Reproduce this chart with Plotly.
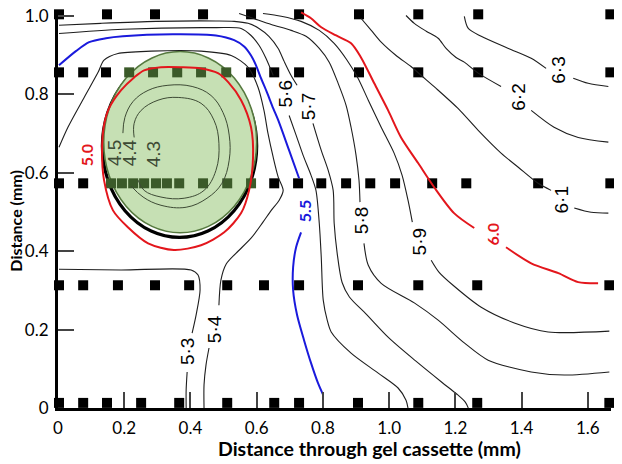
import plotly.graph_objects as go

# ---------------- data ----------------
# measurement grid (black squares), one list of x per row
row_y = [1.004, 0.856, 0.573, 0.313, 0.013]
row1_x = [0.003, 0.148, 0.293, 0.438, 0.583, 0.728, 0.909, 1.088, 1.269, 1.668]
row2_x = [0.003, 0.076, 0.145, 0.215, 0.287, 0.360, 0.432, 0.508, 0.583, 0.653,
          0.728, 0.909, 1.088, 1.269, 1.668]
row3_x = [0.003, 0.076, 0.160, 0.193, 0.227, 0.260, 0.296, 0.329, 0.366, 0.438,
          0.511, 0.583, 0.653, 0.725, 0.795, 0.870, 0.943, 1.018, 1.130, 1.233,
          1.450, 1.668]
row4_x = [0.003, 0.076, 0.181, 0.293, 0.396, 0.511, 0.622, 0.728, 0.906, 1.088,
          1.266, 1.665]
row5_x = [0.003, 0.076, 0.148, 0.251, 0.366, 0.511, 0.653, 0.728, 0.906, 1.088,
          1.266, 1.665]

# gel bead (circle) centre and radius
bead_cx = 0.367
bead_cy = 0.675
bead_r = 0.233

# inner contours (4.4 / 4.3)
c44_x = [0.196, 0.202, 0.227, 0.272, 0.332, 0.405, 0.462, 0.498, 0.517, 0.517,
         0.495, 0.450, 0.387, 0.311, 0.257, 0.221]
c44_y = [0.701, 0.741, 0.782, 0.810, 0.823, 0.820, 0.797, 0.754, 0.696, 0.632,
         0.573, 0.535, 0.512, 0.517, 0.538, 0.566]
c43_x = [0.230, 0.230, 0.251, 0.302, 0.363, 0.432, 0.471, 0.486, 0.477, 0.441,
         0.381, 0.311, 0.260, 0.242]
c43_y = [0.690, 0.726, 0.759, 0.785, 0.792, 0.777, 0.734, 0.675, 0.606, 0.555,
         0.535, 0.538, 0.555, 0.581]

# 5.0 contour (red, closed)
c50_x = [0.230, 0.260, 0.311, 0.372, 0.432, 0.483, 0.514, 0.553, 0.583, 0.589,
         0.577, 0.553, 0.502, 0.432, 0.350, 0.272, 0.211, 0.166, 0.139, 0.133,
         0.139, 0.154, 0.190, 0.230]
c50_y = [0.843, 0.861, 0.869, 0.869, 0.866, 0.854, 0.831, 0.785, 0.716, 0.639,
         0.555, 0.497, 0.448, 0.415, 0.403, 0.420, 0.461, 0.504, 0.581, 0.657,
         0.721, 0.764, 0.810, 0.843]

# 5.3 contour
c53a_x = [0.003, 0.190, 0.402, 0.423, 0.429, 0.417, 0.405]
c53a_y = [0.354, 0.352, 0.352, 0.339, 0.301, 0.237, 0.191]
c53b_x = [0.390, 0.387, 0.387]
c53b_y = [0.092, 0.046, 0.000]

# 5.4 contour
c54a_x = [0.003, 0.030, 0.079, 0.121, 0.139, 0.181, 0.281, 0.432, 0.523, 0.574,
          0.604, 0.622, 0.634, 0.650, 0.665, 0.680, 0.668, 0.644, 0.619, 0.583,
          0.538, 0.508, 0.492, 0.486]
c54a_y = [0.665, 0.716, 0.792, 0.856, 0.887, 0.904, 0.910, 0.910, 0.899, 0.869,
          0.818, 0.759, 0.701, 0.639, 0.589, 0.555, 0.530, 0.504, 0.474, 0.433,
          0.395, 0.367, 0.326, 0.262]
c54b_x = [0.456, 0.447, 0.441, 0.441]
c54b_y = [0.153, 0.110, 0.059, 0.000]

# 5.5 contour (blue)
c55a_x = [0.003, 0.054, 0.094, 0.145, 0.196, 0.347, 0.477, 0.532, 0.562, 0.583,
          0.598, 0.613, 0.631, 0.650, 0.665, 0.698, 0.728]
c55a_y = [0.874, 0.910, 0.933, 0.943, 0.948, 0.953, 0.950, 0.938, 0.922, 0.899,
          0.874, 0.841, 0.805, 0.764, 0.734, 0.657, 0.586]
c55b_x = [0.734, 0.719, 0.710, 0.710, 0.722, 0.743, 0.764, 0.785, 0.801]
c55b_y = [0.448, 0.410, 0.359, 0.301, 0.237, 0.173, 0.115, 0.064, 0.033]

# 5.6 contour
c56a_x = [0.003, 0.196, 0.477, 0.553, 0.583, 0.607, 0.628, 0.650]
c56a_y = [0.955, 0.966, 0.970, 0.968, 0.950, 0.925, 0.892, 0.848]
c56b_x = [0.698, 0.719, 0.740, 0.764, 0.779, 0.789, 0.795, 0.801, 0.813, 0.825,
          0.885, 0.967, 1.027, 1.051, 1.057]
c56b_y = [0.746, 0.696, 0.645, 0.594, 0.555, 0.471, 0.385, 0.275, 0.224, 0.194,
          0.140, 0.089, 0.051, 0.020, 0.000]

# 5.7 contour
c57a_x = [0.003, 0.130, 0.296, 0.477, 0.532, 0.574, 0.607, 0.637, 0.665, 0.683,
          0.704, 0.722]
c57a_y = [0.976, 0.981, 0.986, 0.987, 0.986, 0.981, 0.968, 0.948, 0.917, 0.884,
          0.848, 0.823]
c57b_x = [0.770, 0.795, 0.816, 0.831, 0.834, 0.843, 0.858, 0.880, 0.930, 1.000,
          1.080, 1.160, 1.205, 1.230, 1.239]
c57b_y = [0.726, 0.657, 0.606, 0.555, 0.471, 0.395, 0.320, 0.283, 0.240, 0.178,
          0.120, 0.065, 0.035, 0.015, 0.000]

# 5.8 contour
c58a_x = [0.547, 0.589, 0.644, 0.704, 0.749, 0.789, 0.819, 0.846, 0.870, 0.885,
          0.900, 0.909, 0.912]
c58a_y = [1.006, 0.994, 0.978, 0.963, 0.948, 0.917, 0.882, 0.828, 0.772, 0.716,
          0.645, 0.581, 0.525]
c58b_x = [0.924, 0.937, 0.976, 1.076, 1.148, 1.227, 1.299, 1.429, 1.529, 1.665]
c58b_y = [0.420, 0.364, 0.318, 0.268, 0.224, 0.166, 0.122, 0.092, 0.084, 0.092]

# 5.9 contour
c59a_x = [0.619, 0.674, 0.734, 0.789, 0.834, 0.873, 0.906, 0.937, 0.976, 1.015,
          1.039, 1.057, 1.070]
c59a_y = [1.006, 0.999, 0.986, 0.963, 0.930, 0.887, 0.841, 0.785, 0.716, 0.650,
          0.594, 0.530, 0.474]
c59b_x = [1.127, 1.151, 1.193, 1.278, 1.378, 1.480, 1.665]
c59b_y = [0.377, 0.346, 0.313, 0.257, 0.217, 0.194, 0.196]

# 6.0 contour (red)
c60a_x = [0.734, 0.764, 0.795, 0.840, 0.885, 0.915, 0.955, 0.997, 1.036, 1.088,
          1.136, 1.196, 1.257]
c60a_y = [1.009, 0.994, 0.971, 0.950, 0.930, 0.894, 0.828, 0.759, 0.690, 0.624,
          0.563, 0.497, 0.459]
c60b_x = [1.353, 1.429, 1.511, 1.571, 1.631]
c60b_y = [0.410, 0.369, 0.344, 0.321, 0.318]

# 6.1 contour
c61a_x = [0.915, 0.946, 0.976, 1.021, 1.066, 1.097, 1.142, 1.208, 1.269, 1.338,
          1.390, 1.450, 1.489]
c61a_y = [0.994, 0.963, 0.933, 0.899, 0.871, 0.848, 0.815, 0.764, 0.708, 0.650,
          0.614, 0.573, 0.555]
c61b_x = [1.559, 1.610, 1.662]
c61b_y = [0.510, 0.499, 0.497]

# 6.2 contour
c62a_x = [1.051, 1.076, 1.112, 1.148, 1.172, 1.202, 1.227, 1.269, 1.338]
c62a_y = [1.001, 0.981, 0.961, 0.943, 0.917, 0.894, 0.882, 0.854, 0.820]
c62b_x = [1.429, 1.498, 1.571, 1.662]
c62b_y = [0.759, 0.716, 0.690, 0.678]

# 6.3 contour
c63a_x = [1.227, 1.239, 1.278, 1.360, 1.429, 1.474]
c63a_y = [0.999, 0.968, 0.948, 0.917, 0.892, 0.866]
c63b_x = [1.556, 1.601, 1.662]
c63b_y = [0.841, 0.828, 0.820]

# contour labels
label_text = ["5.0", "4.5", "4.4", "4.3", "5.5", "5·6", "5·7", "5·8", "5·9",
              "6.0", "6·1", "6·2", "6·3", "5·3", "5·4"]
label_x = [0.085, 0.169, 0.215, 0.287, 0.743, 0.686, 0.755, 0.915, 1.091,
           1.311, 1.520, 1.390, 1.511, 0.393, 0.471]
label_y = [0.645, 0.650, 0.650, 0.647, 0.502, 0.800, 0.767, 0.479, 0.423,
           0.443, 0.530, 0.792, 0.861, 0.143, 0.201]

x_ticks = [0, 0.2, 0.4, 0.6, 0.8, 1.0, 1.2, 1.4, 1.6]
x_ticktext = ["0", "0.2", "0.4", "0.6", "0.8", "1.0", "1.2", "1.4", "1.6"]
y_ticks = [0, 0.2, 0.4, 0.6, 0.8, 1.0]
y_ticktext = ["0", "0.2", "0.4", "0.6", "0.8", "1.0"]

x_title = "Distance through gel cassette (mm)"
y_title = "Distance (mm)"

# ---------------- styling ----------------
RED = "#e3161c"
BLUE = "#1a1adc"
BLACK_LINE = "#1e1e1e"
GREEN_FILL = "#c6e0b4"
GREEN_EDGE = "#56793f"
DARK_GREEN = "#3b5a29"
INNER = "#3d4a34"

fig = go.Figure()

# bead: black ring then green disk (below traces)
fig.add_shape(type="circle", xref="x", yref="y", layer="below",
              x0=bead_cx - bead_r, x1=bead_cx + bead_r,
              y0=bead_cy - 0.007 - bead_r, y1=bead_cy - 0.007 + bead_r,
              line=dict(color="black", width=3.2))
fig.add_shape(type="circle", xref="x", yref="y", layer="below",
              x0=bead_cx + 0.002 - (bead_r - 0.002), x1=bead_cx + 0.002 + (bead_r - 0.002),
              y0=bead_cy + 0.003 - (bead_r - 0.002), y1=bead_cy + 0.003 + (bead_r - 0.002),
              fillcolor=GREEN_FILL, line=dict(color=GREEN_EDGE, width=1.6))

# grid markers
mx, my = [], []
for yv, xs in zip(row_y, [row1_x, row2_x, row3_x, row4_x, row5_x]):
    for xv in xs:
        mx.append(xv)
        my.append(yv)
mcol = []
for xv, yv in zip(mx, my):
    d2 = (xv - bead_cx) ** 2 + (yv - (bead_cy + 0.003)) ** 2
    mcol.append(DARK_GREEN if d2 < (bead_r + 0.01) ** 2 else "black")
fig.add_trace(go.Scatter(x=mx, y=my, mode="markers", cliponaxis=False,
                         marker=dict(symbol="square", size=10, color=mcol,
                                     line=dict(width=0)),
                         hoverinfo="skip", showlegend=False))


def add_line(xs, ys, color, width, smoothing=0.8):
    fig.add_trace(go.Scatter(x=xs, y=ys, mode="lines",
                             line=dict(color=color, width=width, shape="spline",
                                       smoothing=smoothing),
                             hoverinfo="skip", showlegend=False))


for xs, ys in [(c44_x, c44_y), (c43_x, c43_y)]:
    add_line(xs, ys, INNER, 1.0, smoothing=1.1)

for xs, ys in [(c53a_x, c53a_y), (c53b_x, c53b_y), (c54a_x, c54a_y),
               (c54b_x, c54b_y), (c56a_x, c56a_y), (c56b_x, c56b_y),
               (c57a_x, c57a_y), (c57b_x, c57b_y), (c58a_x, c58a_y),
               (c58b_x, c58b_y), (c59a_x, c59a_y), (c59b_x, c59b_y),
               (c61a_x, c61a_y), (c61b_x, c61b_y), (c62a_x, c62a_y),
               (c62b_x, c62b_y), (c63a_x, c63a_y), (c63b_x, c63b_y)]:
    add_line(xs, ys, BLACK_LINE, 1.1)

for xs, ys in [(c55a_x, c55a_y), (c55b_x, c55b_y)]:
    add_line(xs, ys, BLUE, 2.0)
for xs, ys in [(c50_x, c50_y), (c60a_x, c60a_y), (c60b_x, c60b_y)]:
    add_line(xs, ys, RED, 2.0)

# labels
for t, lx, ly in zip(label_text, label_x, label_y):
    if t in ("5.0", "6.0"):
        font = dict(family="Lato", size=16, color=RED, weight="bold")
    elif t == "5.5":
        font = dict(family="Lato", size=16, color=BLUE, weight="bold")
    elif t.startswith("4."):
        font = dict(family="Liberation Sans", size=19, color=INNER)
    else:
        font = dict(family="Liberation Sans", size=19, color="black")
    fig.add_annotation(x=lx, y=ly, xref="x", yref="y", text=t, showarrow=False,
                       textangle=-90, font=font, xanchor="center", yanchor="middle")

# axis titles (paper coordinates)
fig.add_annotation(x=0.564, y=-0.101, xref="paper", yref="paper", text=x_title,
                   showarrow=False, xanchor="center", yanchor="middle",
                   font=dict(family="Lato", size=19.5, color="black", weight="bold"))
fig.add_annotation(x=-0.0765, y=0.47, xref="paper", yref="paper", text=y_title,
                   showarrow=False, textangle=-90, xanchor="center", yanchor="middle",
                   font=dict(family="Lato", size=16, color="black", weight="bold"))

axis_common = dict(showgrid=False, zeroline=False, showline=True, linewidth=3,
                   linecolor="black", ticks="inside", ticklen=16, tickwidth=1.5,
                   tickcolor="#444444", automargin=False, ticklabeloverflow="allow",
                   tickfont=dict(family="Lato", size=17, color="black"))
fig.update_xaxes(range=[0, 1.67], tickvals=x_ticks, ticktext=x_ticktext,
                 ticklabelstandoff=3, **axis_common)
fig.update_yaxes(range=[0, 1.015], tickvals=y_ticks, ticktext=y_ticktext,
                 ticklabelstandoff=3, **axis_common)

# the page body adds an 8 px offset, so the figure is 8 px smaller and shifted
fig.update_layout(width=614, height=456, margin=dict(l=50, r=11, t=2, b=56),
                  plot_bgcolor="white", paper_bgcolor="white", showlegend=False)

fig.write_html("out.html")
